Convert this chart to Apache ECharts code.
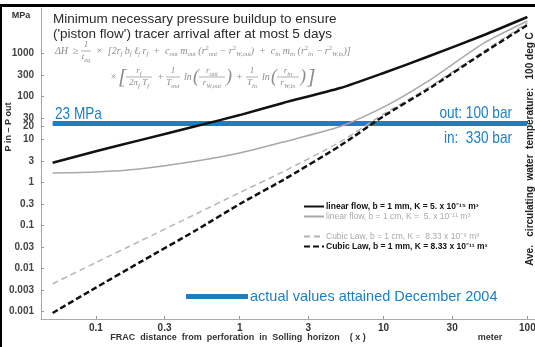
<!DOCTYPE html>
<html>
<head>
<meta charset="utf-8">
<script src="https://cdn.jsdelivr.net/npm/echarts@6/dist/echarts.min.js"></script>
<style>
  html, body { margin: 0; padding: 0; background: #fff; }
  #grafico { width: 535px; height: 347px; }
</style>
</head>
<body>
<div id="grafico"></div>
<script>
// distancia da perfuracao (m) e pressao necessaria (MPa)
const distancias = [0.05, 0.1, 0.2, 0.5, 1, 2, 5, 10, 20, 50, 100];
const linear1mm = [2.8, 5.2, 9.3, 20, 36, 69, 153, 343, 807, 2620, 6870];
const linear1cm = [1.62, 1.71, 2.01, 3.08, 4.72, 8.5, 19.5, 55, 212, 1710, 5550];
const cubica1cm = [0.0043, 0.0134, 0.0413, 0.183, 0.567, 1.73, 8.6, 38, 149, 1110, 4990];
const cubica1mm = [0.0009, 0.0035, 0.0133, 0.0765, 0.308, 1.11, 7.0, 34, 138, 1030, 4480];
const pressaoAtual = 23;
const ticksX = [0.1, 0.3, 1, 3, 10, 30, 100];
const ticksY = [0.001, 0.003, 0.01, 0.03, 0.1, 0.3, 1, 3, 10, 20, 30, 100, 300, 1000];

const nomes = [
  "linear flow, b = 1 mm, K = 5. x 10\u207B\u00B9\u2075 m\u00B3",
  "linear flow, b = 1 cm, K =  5. x 10\u207B\u00B9\u00B9 m\u00B3",
  "Cubic Law, b = 1 cm, K =  8.33 x 10\u207B\u2079 m\u00B3",
  "Cubic Law, b = 1 mm, K = 8.33 x 10\u207B\u00B9\u00B9 m\u00B3"
];
const nomeAzul = "actual values attained December 2004";

const azul = "#1b7fc2";
const corFormula = "#8c8c8c";
const fonteSans = "'Liberation Sans',Arial,sans-serif";
const fonteSerif = "'Liberation Serif','DejaVu Serif',serif";

function serie(nome, valores, cor, largura, tipo) {
  return {
    name: nome, type: "line", symbol: "none", smooth: 0.2, silent: true,
    data: distancias.map((d, i) => [d, valores[i]]),
    lineStyle: { color: cor, width: largura, type: tipo },
    itemStyle: { color: cor }
  };
}

function texto(x, y, t, estilo, extra) {
  return Object.assign({
    type: "text", x: x, y: y, silent: true,
    style: Object.assign({ text: t, fill: "#222", verticalAlign: "middle", align: "left" }, estilo)
  }, extra || {});
}

// texto azul "estreito" (sem fonte narrow instalada, comprime na horizontal)
function textoAzul(x, y, t, alinh) {
  return texto(x, y, t, { fontSize: 17, fontFamily: fonteSans, fill: azul, align: alinh || "left" },
    { scaleX: 0.8 });
}

const richFormula = {
  s: { fontSize: 6.5, fontFamily: fonteSerif, fontStyle: "italic", fill: corFormula, verticalAlign: "bottom" },
  p: { fontSize: 6.5, fontFamily: fonteSerif, fill: corFormula, verticalAlign: "top" }
};
function estiloFormula(alinh, tam) {
  return { fontSize: tam || 10, fontFamily: fonteSerif, fontStyle: "italic", fill: corFormula,
    align: alinh || "left", lineHeight: 13, rich: richFormula };
}
function fracao(x, y, cima, baixo, larg) {
  return [
    texto(x + larg / 2, y - 6, cima, estiloFormula("center", 9)),
    texto(x + larg / 2, y + 6, baixo, estiloFormula("center", 9)),
    { type: "line", silent: true, shape: { x1: x, y1: y, x2: x + larg, y2: y },
      style: { stroke: corFormula, lineWidth: 0.7 } }
  ];
}

// formula (duas linhas)
const formula = [].concat(
  texto(55, 51, "\u0394H  \u2265", estiloFormula()),
  fracao(81, 51, "1", "t{s|eq}", 10),
  texto(96, 51, "\u00D7  [2r{s|f} b{s|f} \u2113{s|f} r{s|f}  +  c{s|out} m{s|out} (r{p|2}{s|out} \u2212 r{p|2}{s|W,out})  +  c{s|in} m{s|in} (r{p|2}{s|in} \u2212 r{p|2}{s|W,in})]", estiloFormula()),
  texto(110, 77, "\u00D7", estiloFormula()),
  texto(118, 77, "[", estiloFormula("left", 22)),
  fracao(126, 77, "r{s|f}", "2\u03C0{s|f} T{s|f}", 26),
  texto(157, 77, "+", estiloFormula()),
  fracao(166, 77, "1", "T{s|out}", 14),
  texto(184, 77, "ln", estiloFormula()),
  texto(193, 77, "(", estiloFormula("left", 18)),
  fracao(199, 77, "r{s|out}", "r{s|W,out}", 26),
  texto(226, 77, ")", estiloFormula("left", 18)),
  texto(236, 77, "+", estiloFormula()),
  fracao(246, 77, "1", "T{s|in}", 12),
  texto(262, 77, "ln", estiloFormula()),
  texto(271, 77, "(", estiloFormula("left", 18)),
  fracao(277, 77, "r{s|in}", "r{s|W,in}", 22),
  texto(300, 77, ")", estiloFormula("left", 18)),
  texto(307, 77, "]", estiloFormula("left", 22))
);

const chart = echarts.init(document.getElementById("grafico"));

const legendaBase = {
  left: 303, orient: "vertical", padding: 0, itemGap: 1,
  itemWidth: 20, itemHeight: 9, selectedMode: false,
  itemStyle: { opacity: 0 },
  textStyle: { fontSize: 8.5, fontFamily: fonteSans, padding: [0, 0, 0, -3] }
};

const option = {
  animation: false,
  backgroundColor: "#fff",
  textStyle: { fontFamily: fonteSans },
  grid: { left: 41, right: 0, top: 8, bottom: 28, containLabel: false, outerBoundsMode: "none" },
  xAxis: {
    type: "log", logBase: 10, min: 0.0415, max: 113,
    axisLine: { onZero: false, lineStyle: { color: "#aaa", width: 1 } },
    axisTick: { inside: true, length: 3, customValues: ticksX, lineStyle: { color: "#999" } },
    axisLabel: { customValues: ticksX, formatter: v => String(v), margin: 4,
      fontSize: 10, fontWeight: "bold", color: "#333", fontFamily: fonteSans },
    splitLine: { show: false }
  },
  yAxis: {
    type: "log", logBase: 10, min: 0.000652, max: 11130,
    axisLine: { onZero: false, lineStyle: { color: "#aaa", width: 1 } },
    axisTick: { inside: true, length: 3, customValues: ticksY, lineStyle: { color: "#999" } },
    axisLabel: { customValues: ticksY, formatter: v => String(v), margin: 7,
      fontSize: 10, fontWeight: "bold", color: "#444", fontFamily: fonteSans },
    splitLine: { show: false }
  },
  legend: [
    Object.assign({}, legendaBase, {
      top: 202,
      data: [
        { name: nomes[0], textStyle: { color: "#111", fontWeight: "bold" } },
        { name: nomes[1], textStyle: { color: "#aaa" } }
      ]
    }),
    Object.assign({}, legendaBase, {
      top: 232,
      data: [
        { name: nomes[2], textStyle: { color: "#aaa" } },
        { name: nomes[3], textStyle: { color: "#111", fontWeight: "bold" } }
      ]
    }),
    {
      data: [{ name: nomeAzul, icon: "rect" }],
      left: 186, top: 289, padding: 0, itemWidth: 62, itemHeight: 5, selectedMode: false,
      textStyle: { fontSize: 14.5, color: azul, fontFamily: fonteSans, padding: [0, 0, 0, -3] }
    }
  ],
  series: [
    {
      name: nomeAzul, type: "line", symbol: "none", silent: true,
      data: [[distancias[0], pressaoAtual], [distancias[distancias.length - 1], pressaoAtual]],
      lineStyle: { color: azul, width: 5 }, itemStyle: { color: azul }
    },
    serie(nomes[2], cubica1cm, "#b4b4b4", 1.5, [6, 4]),
    serie(nomes[1], linear1cm, "#a8a8a8", 1.5, "solid"),
    serie(nomes[3], cubica1mm, "#111", 2.5, [6, 3]),
    serie(nomes[0], linear1mm, "#111", 2.5, "solid")
  ],
  graphic: [].concat(
    [
      { type: "rect", silent: true, shape: { x: 0, y: 4, width: 535, height: 3 }, style: { fill: "#000" } },
      { type: "rect", silent: true, shape: { x: 0, y: 4, width: 2, height: 343 }, style: { fill: "#000" } },
      texto(21, 16, "MPa", { fontSize: 9, fontWeight: "bold", fontFamily: fonteSans, align: "center", fill: "#333" }),
      texto(53, 19, "Minimum necessary pressure buildup to ensure", { fontSize: 13.5, fontFamily: fonteSans, fill: "#2a2a2a" }),
      texto(53, 34, "('piston flow') tracer arrival after at most 5 days", { fontSize: 13.5, fontFamily: fonteSans, fill: "#2a2a2a" }),
      texto(9, 127, "P in \u2013 P out", { fontSize: 9, fontWeight: "bold", fontFamily: fonteSans, align: "center", fill: "#333" },
        { rotation: Math.PI / 2 }),
      textoAzul(55, 114, "23 MPa"),
      textoAzul(512, 113, "out: 100 bar", "right"),
      textoAzul(512, 138, "in:  330 bar", "right"),
      texto(238, 338, "FRAC  distance  from  perforation  in  Solling  horizon    ( x )",
        { fontSize: 9, fontWeight: "bold", fontFamily: fonteSans, align: "center", fill: "#333" }),
      texto(490, 338, "meter", { fontSize: 9, fontWeight: "bold", fontFamily: fonteSans, align: "center", fill: "#333" }),
      texto(530, 149, "Ave.   circulating  water  temperature:   100 deg C",
        { fontSize: 10, fontWeight: "bold", fontFamily: fonteSans, align: "center", fill: "#222" },
        { rotation: Math.PI / 2 })
    ],
    formula
  )
};

chart.setOption(option);
</script>
</body>
</html>
